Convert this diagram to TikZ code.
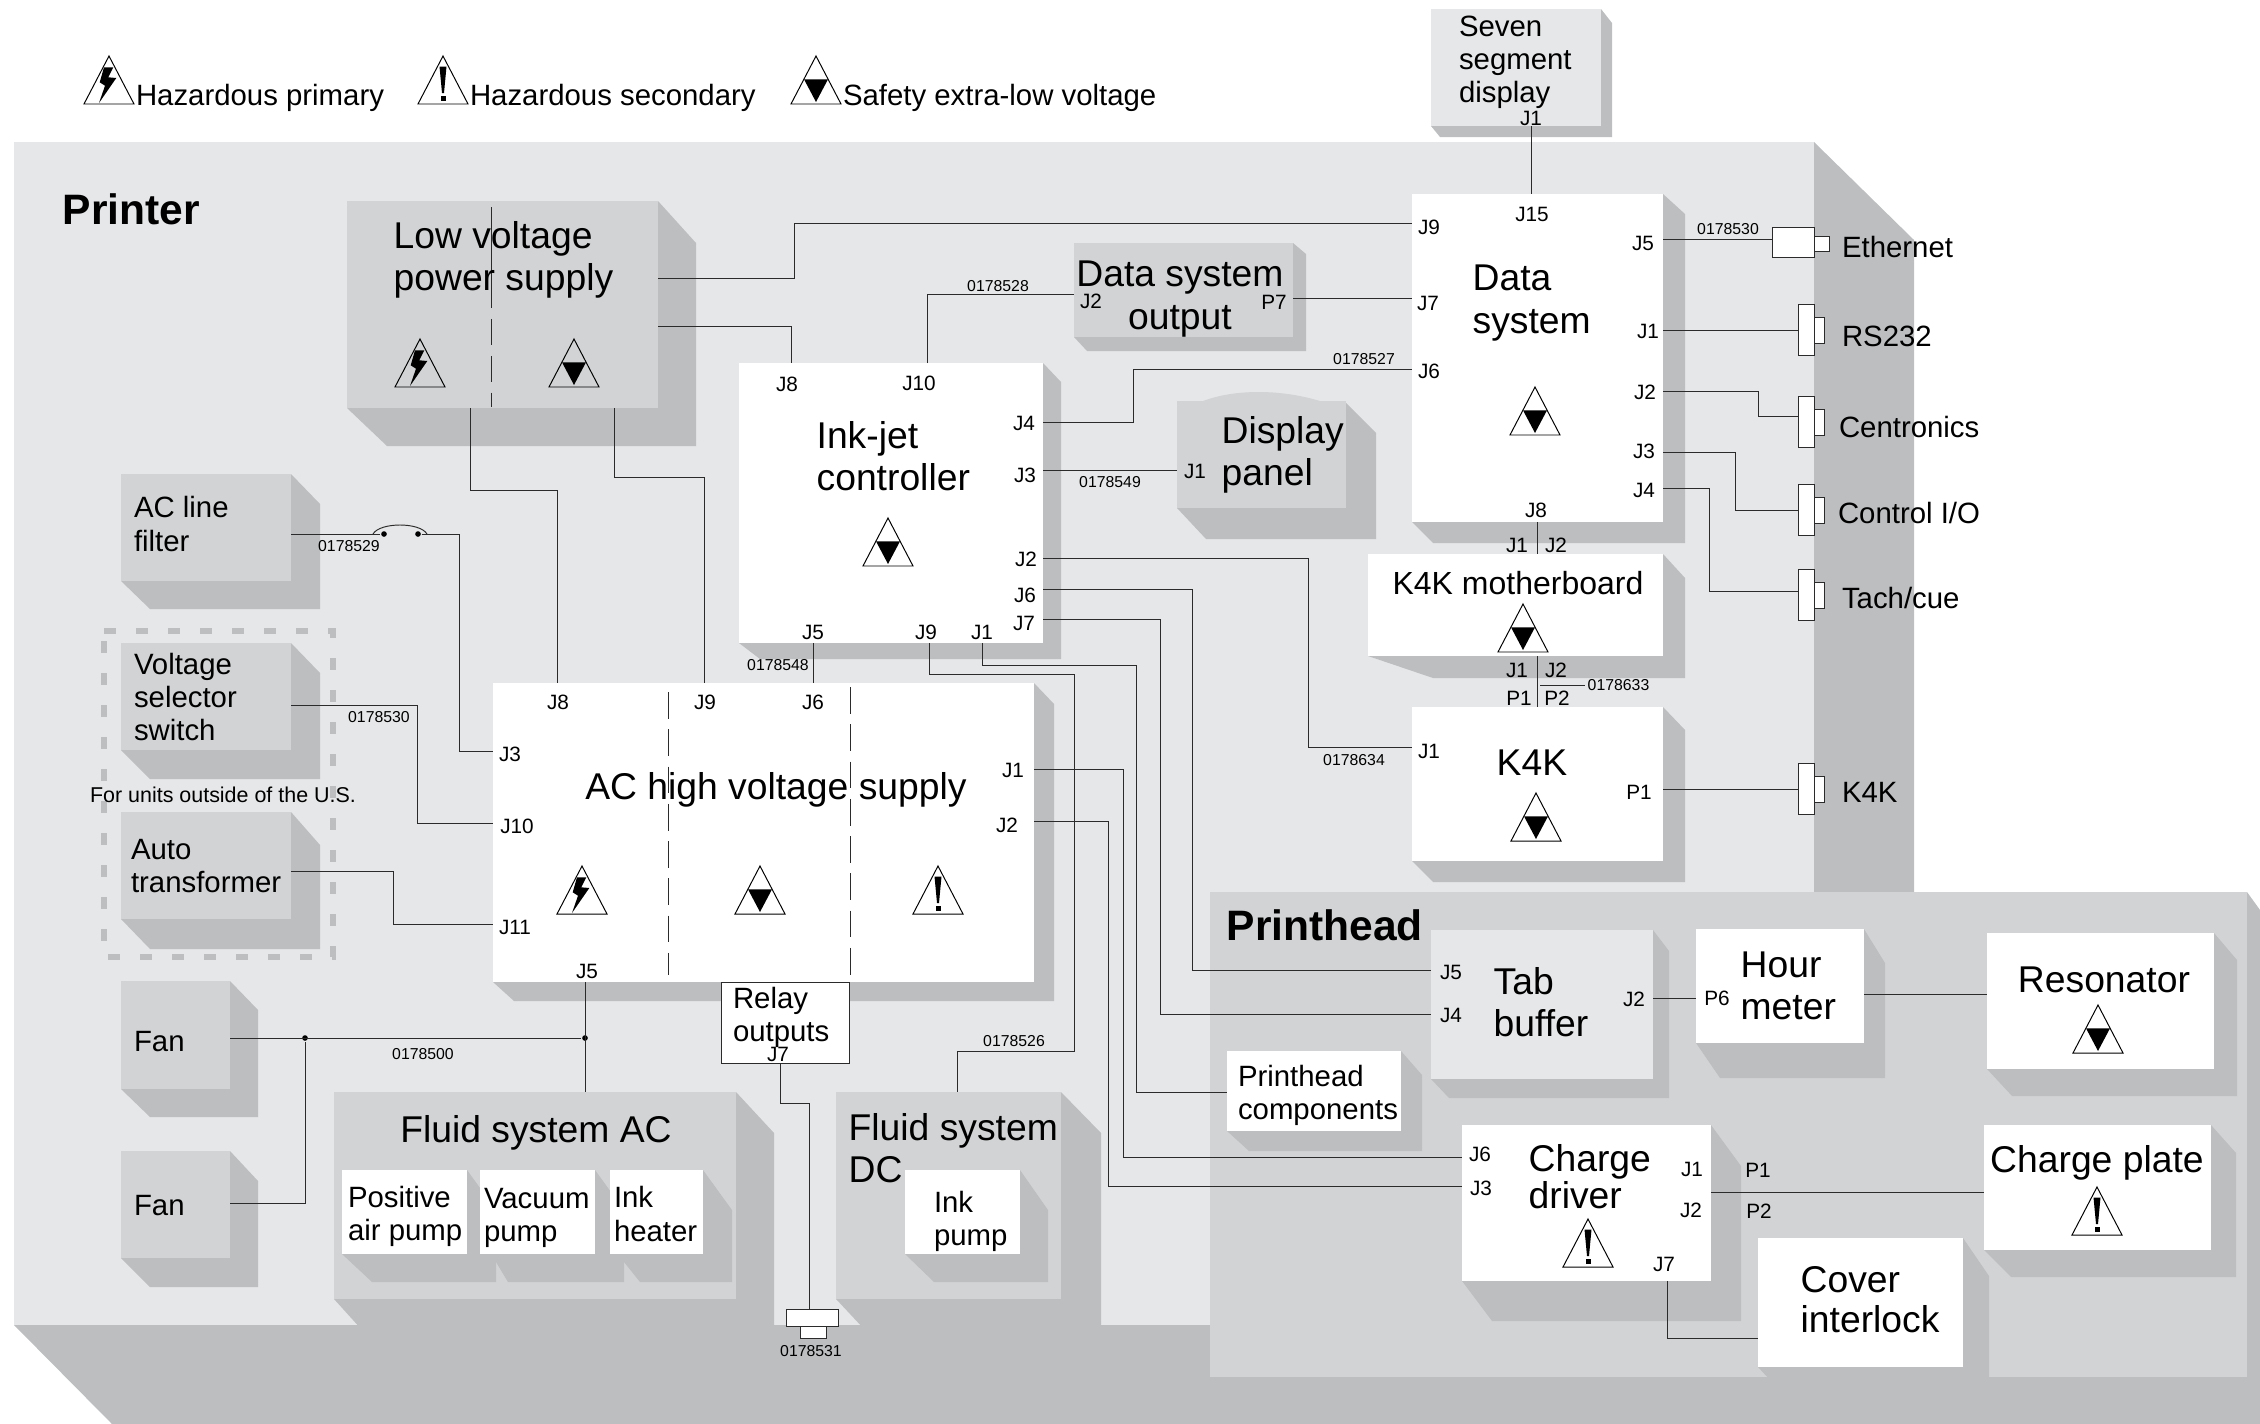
\documentclass[tikz,border=0pt]{standalone}
\usepackage{fontspec}
\setmainfont{Liberation Sans}
\usepackage{tikz}
\usetikzlibrary{fit}
\definecolor{facelight}{HTML}{E6E7E8}
\definecolor{facemid}{HTML}{D1D3D4}
\definecolor{shadegray}{HTML}{BCBEC0}
\definecolor{wiregray}{HTML}{2B2B2B}
\tikzset{
  trioutline/.style={line width=0.28pt, line join=miter},
  hazprimary/.pic={
    \draw[trioutline] (-25,0) -- (0,-48) -- (25,0) -- cycle;
    \fill (-5,-36.7) -- (4.3,-36.7) -- (-0.7,-26.7) -- (7.3,-26) -- (-10,-1) -- (-4,-18.3) -- (-9.3,-21.7) -- cycle;
  },
  hazsecondary/.pic={
    \draw[trioutline] (-25,0) -- (0,-48) -- (25,0) -- cycle;
    \fill (-3.5,-37.5) -- (3.5,-37.5) -- (1,-11) -- (-1,-11) -- cycle;
    \fill (-2.5,-8.5) rectangle (2.5,-3.5);
  },
  safevolt/.pic={
    \draw[trioutline] (-25,0) -- (0,-48) -- (25,0) -- cycle;
    \fill (-12,-24.7) -- (12,-24.7) -- (0,-2) -- cycle;
  }
}
\begin{document}
\begin{tikzpicture}[x=0.01cm, y=-0.01cm,
  boxbase/.style={inner sep=0, outer sep=0},
  midbox/.style={boxbase, fill=facemid},
  lightbox/.style={boxbase, fill=facelight},
  whitebox/.style={boxbase, fill=white},
  shade/.style={fill=shadegray},
  wire/.style={draw=wiregray, line width=0.27pt},
  divider/.style={draw=wiregray, line width=0.24pt, dash pattern=on 7.6pt off 3pt},
  portbox/.style={boxbase, fill=white, draw=wiregray, line width=0.27pt},
  jdot/.style={circle, fill=black, inner sep=0, minimum size=1.6pt},
  bigtext/.style={font=\fontsize{10.6}{12}\selectfont, align=left, inner sep=0, anchor=west, xshift=-0.3pt},
  medtext/.style={font=\fontsize{8.35}{9.4}\selectfont, align=left, inner sep=0, anchor=west, xshift=-0.2pt},
  titletext/.style={font=\fontsize{12.1}{14}\selectfont\bfseries, inner sep=0, anchor=west},
  jlab/.style={font=\fontsize{5.9}{7}\selectfont, inner sep=0},
  numlab/.style={font=\fontsize{4.5}{5}\selectfont, inner sep=0}]
\useasboundingbox (0,0) rectangle (2260,1424);

% Printer and printhead bases
\fill[shade] (1814,142) -- (1914,240) -- (1914,900) -- (1814,900) -- cycle;
\fill[shade] (14,1325) -- (112,1424) -- (2260,1424) -- (2260,910) -- (2247,892) -- (1210,892) -- (1210,1325) -- cycle;
\node[lightbox, fit={(14,142) (1814,1325)}] (printer) {};
\node[midbox, fit={(1210,892) (2247,1377)}] (printhead) {};
\node[titletext] (printertext) at (62,209) {Printer};
\node[titletext] (printheadtext) at (1226,925) {Printhead};

% Legend
\pic at (109,104) {hazprimary};
\pic at (443,104) {hazsecondary};
\pic at (816,104) {safevolt};
\node[medtext] (legprimary) at (136,98) {Hazardous primary};
\node[medtext] (legsecondary) at (470,98) {Hazardous secondary};
\node[medtext] (legsafe) at (843,98) {Safety extra-low voltage};

% Seven segment display
\fill[shade] (1601,9) -- (1612,23) -- (1612,137) -- (1440,137) -- (1431,126) -- cycle;
\node[lightbox, fit={(1431,9) (1601,126)}] (seven) {};
\node[medtext] (seventext) at (1459,62) {Seven\\segment\\display};

% Low voltage power supply
\fill[shade] (658,201) -- (696,243) -- (696,446) -- (387,446) -- (347,408) -- cycle;
\node[midbox, fit={(347,201) (658,408)}] (lvps) {};
\draw[divider, dash pattern=on 28.7pt off 3.1pt on 7.4pt off 3.1pt on 7.4pt off 3.1pt on 4pt off 9pt] (491,207) -- (491,408);
\node[bigtext] (lvpstext) at (394,260) {Low voltage\\power supply};
\pic at (420,387) {hazprimary};
\pic at (574,387) {safevolt};

% Ink-jet controller
\fill[shade] (1043,363) -- (1061,382) -- (1061,659) -- (760,659) -- (739,643) -- cycle;
\node[whitebox, fit={(739,363) (1043,643)}] (ink) {};
\node[bigtext] (inktext) at (817,456) {Ink-jet\\controller};
\pic at (888,566) {safevolt};

% Data system output
\fill[shade] (1293,243) -- (1306,254) -- (1306,351) -- (1087,351) -- (1074,337) -- cycle;
\node[midbox, fit={(1074,243) (1293,337)}] (dsout) {};
\node[bigtext, anchor=center, align=center] (dsouttext) at (1181,299) {Data system\\output};

% Display panel
\fill[shade] (1346,403) -- (1376,433) -- (1376,539) -- (1206,539) -- (1177,508) -- cycle;
\node[midbox, fit={(1177,401) (1346,508)}] (display) {};
\fill[facemid] (1203,401) .. controls (1235,389) and (1280,389) .. (1320,401) -- cycle;
\node[bigtext] (displaytext) at (1222,455) {Display\\panel};

% Data system
\fill[shade] (1663,194) -- (1685,214) -- (1685,543) -- (1433,543) -- (1412,522) -- cycle;
\node[whitebox, fit={(1412,194) (1663,522)}] (dsys) {};
\node[bigtext] (dsystext) at (1473,303) {Data\\system};
\pic at (1535,435) {safevolt};

% K4K motherboard
\fill[shade] (1663,554) -- (1685,578) -- (1685,678) -- (1433,678) -- (1368,656) -- cycle;
\node[whitebox, fit={(1368,554) (1663,656)}] (mother) {};
\node[font=\fontsize{9.1}{10}\selectfont, inner sep=0] (mothertext) at (1518,583) {K4K motherboard};
\pic at (1523,652) {safevolt};

% K4K
\fill[shade] (1663,707) -- (1685,730) -- (1685,882) -- (1433,882) -- (1412,861) -- cycle;
\node[whitebox, fit={(1412,707) (1663,861)}] (kfk) {};
\node[bigtext, anchor=center] (kfktext) at (1533,763) {K4K};
\pic at (1536,841) {safevolt};

% Line filter, selector and transformer
\draw[shadegray, line width=1.5pt, dash pattern=on 3.41pt off 5.69pt] (104,631) -- (333,631) -- (333,957) -- (104,957) -- cycle;
\fill[shade] (291,474) -- (320,504) -- (320,609) -- (150,609) -- (121,581) -- cycle;
\node[midbox, fit={(121,474) (291,581)}] (filter) {};
\node[medtext] (filtertext) at (134,524) {AC line\\filter};
\fill[shade] (291,643) -- (320,673) -- (320,779) -- (150,779) -- (121,750) -- cycle;
\node[midbox, fit={(121,643) (291,750)}] (selector) {};
\node[medtext] (selectortext) at (134,697) {Voltage\\selector\\switch};
\node[font=\fontsize{6.1}{7}\selectfont, inner sep=0] (unitstext) at (223,795) {For units outside of the U.S.};
\fill[shade] (291,812) -- (320,845) -- (320,949) -- (150,949) -- (121,919) -- cycle;
\node[midbox, fit={(121,812) (291,919)}] (auto) {};
\node[medtext] (autotext) at (131,866) {Auto\\transformer};

% Fans
\fill[shade] (230,981) -- (258,1010) -- (258,1117) -- (150,1117) -- (121,1089) -- cycle;
\node[midbox, fit={(121,981) (230,1089)}] (fanone) {};
\node[medtext] (fanonetext) at (134,1042) {Fan};
\fill[shade] (230,1151) -- (258,1181) -- (258,1287) -- (150,1287) -- (121,1258) -- cycle;
\node[midbox, fit={(121,1151) (230,1258)}] (fantwo) {};
\node[medtext] (fantwotext) at (134,1206) {Fan};

% AC high voltage supply
\fill[shade] (1034,683) -- (1054,704) -- (1054,1001) -- (514,1001) -- (493,982) -- cycle;
\node[whitebox, fit={(493,683) (1034,982)}] (hvac) {};
\draw[divider] (668,692) -- (668,975);
\draw[divider] (850,687) -- (850,975);
\node[bigtext, anchor=center] (hvactext) at (777,790) {AC high voltage supply};
\pic at (582,914) {hazprimary};
\pic at (760,914) {safevolt};
\pic at (938,914) {hazsecondary};

% Fluid system AC
\fill[shade] (736,1092) -- (774,1133) -- (774,1330) -- (362,1330) -- (334,1299) -- cycle;
\node[midbox, fit={(334,1092) (736,1299)}] (fluidac) {};
\node[bigtext, anchor=center] (fluidactext) at (537,1133) {Fluid system AC};
\fill[shade] (467,1170) -- (496,1210) -- (496,1282) -- (372,1282) -- (342,1254) -- cycle;
\node[whitebox, fit={(342,1170) (467,1254)}] (airpump) {};
\node[medtext] (airpumptext) at (348,1216) {Positive\\air pump};
\fill[shade] (595,1170) -- (624,1210) -- (624,1282) -- (508,1282) -- (496,1262) -- (480,1254) -- cycle;
\node[whitebox, fit={(480,1170) (595,1254)}] (vacpump) {};
\node[medtext] (vacpumptext) at (484,1218) {Vacuum\\pump};
\fill[shade] (703,1170) -- (732,1210) -- (732,1282) -- (640,1282) -- (624,1262) -- (610,1254) -- cycle;
\node[whitebox, fit={(610,1170) (703,1254)}] (heater) {};
\node[medtext] (heatertext) at (614,1214) {Ink\\heater};

% Fluid system DC
\fill[shade] (1061,1092) -- (1101,1133) -- (1101,1330) -- (865,1330) -- (836,1299) -- cycle;
\node[midbox, fit={(836,1092) (1061,1299)}] (fluiddc) {};
\node[bigtext] (fluiddctext) at (849,1148) {Fluid system\\DC};
\fill[shade] (1020,1170) -- (1048,1210) -- (1048,1282) -- (934,1282) -- (905,1254) -- cycle;
\node[whitebox, fit={(905,1170) (1020,1254)}] (inkpump) {};
\node[medtext] (inkpumptext) at (934,1221) {Ink\\pump};

% Printhead blocks
\fill[shade] (1653,930) -- (1669,951) -- (1669,1098) -- (1449,1098) -- (1431,1079) -- cycle;
\node[lightbox, fit={(1431,930) (1653,1079)}] (tab) {};
\node[bigtext] (tabtext) at (1494,1002) {Tab\\buffer};
\fill[shade] (1864,929) -- (1885,963) -- (1885,1078) -- (1720,1078) -- (1696,1043) -- cycle;
\node[whitebox, fit={(1696,929) (1864,1043)}] (hour) {};
\node[bigtext] (hourtext) at (1741,986) {Hour\\meter};
\fill[shade] (2214,933) -- (2237,960) -- (2237,1096) -- (2012,1096) -- (1987,1069) -- cycle;
\node[whitebox, fit={(1987,933) (2214,1069)}] (resonator) {};
\node[bigtext, anchor=center] (resonatortext) at (2105,980) {Resonator};
\pic at (2098,1053) {safevolt};
\fill[shade] (1401,1051) -- (1422,1075) -- (1422,1151) -- (1249,1151) -- (1227,1131) -- cycle;
\node[whitebox, fit={(1227,1051) (1401,1131)}] (components) {};
\node[medtext] (componentstext) at (1238,1095) {Printhead\\components};
\fill[shade] (1711,1125) -- (1741,1166) -- (1741,1321) -- (1492,1321) -- (1462,1281) -- cycle;
\node[whitebox, fit={(1462,1125) (1711,1281)}] (chargedrv) {};
\node[bigtext, font=\fontsize{10.6}{10.5}\selectfont] (chargedrvtext) at (1529,1177) {Charge\\driver};
\pic at (1588,1267) {hazsecondary};
\fill[shade] (2211,1125) -- (2236,1153) -- (2236,1277) -- (2011,1277) -- (1984,1250) -- cycle;
\node[whitebox, fit={(1984,1125) (2211,1250)}] (chargeplate) {};
\node[bigtext, anchor=center] (chargeplatetext) at (2098,1163) {Charge plate};
\pic at (2097,1235) {hazsecondary};
\fill[shade] (1963,1238) -- (1989,1276) -- (1989,1380) -- (1770,1380) -- (1758,1367) -- cycle;
\node[whitebox, fit={(1758,1238) (1963,1367)}] (cover) {};
\node[bigtext, font=\fontsize{10.6}{11.3}\selectfont] (covertext) at (1801,1300) {Cover\\interlock};

% Outside connectors
\node[portbox, fit={(1772,227) (1814,257)}] (ethbody) {};
\node[portbox, fit={(1814,236) (1829,251)}] (ethtip) {};
\node[medtext] (ethtext) at (1842,247) {Ethernet};
\foreach \pname/\py in {rs/330, cen/422, ctl/510, tach/595, kport/789} {
  \node[portbox, fit={(1798,\py-25.5) (1814,\py+25.5)}] (\pname body) {};
  \node[portbox, fit={(1814,\py-13) (1824,\py+13)}] (\pname tip) {};
}
\node[medtext] (rstext) at (1842,336) {RS232};
\node[medtext] (centext) at (1839,427) {Centronics};
\node[medtext] (ctltext) at (1838,513) {Control I/O};
\node[medtext] (tachtext) at (1842,598) {Tach/cue};
\node[medtext] (kporttext) at (1842,792) {K4K};
\node[portbox, fit={(786,1309) (838,1326)}] (plugbody) {};
\node[portbox, fit={(800,1326) (826,1338)}] (plugtip) {};

% Connectors around the power supplies
\draw[wire] (lvps.east |- 0,278) -| (794,223) -- (dsys.west |- 0,223);
\draw[wire] (lvps.east |- 0,326) -| (791,0 |- ink.north);
\draw[wire] (470,0 |- lvps.south) |- (557,490) -- (557,0 |- hvac.north);
\draw[wire] (614,0 |- lvps.south) |- (704,477) -- (704,0 |- hvac.north);
\draw[wire] (813,0 |- ink.south) -- (813,0 |- hvac.north);
\node[jdot] (swleft) at (384,534) {};
\node[jdot] (swright) at (418,534) {};
\coordinate (arcleft) at (373,534);
\coordinate (arcright) at (427,534);
\draw[wire] (filter.east |- swleft) -- (swleft);
\draw[wire] (arcleft) .. controls (380,522) and (420,522) .. (arcright);
\draw[wire] (swright) -| (459,751) -- (hvac.west |- 0,751);
\draw[wire] (selector.east |- 0,705) -| (417,823) -- (hvac.west |- 0,823);
\draw[wire] (auto.east |- 0,871) -| (393,924) -- (hvac.west |- 0,924);

% Fan and relay connectors
\node[jdot] (fandot) at (305,1038) {};
\node[jdot] (acdot) at (585,1038) {};
\draw[wire] (fanone.east |- fandot) -- (acdot);
\draw[wire] (fantwo.east |- 0,1203) -| (fandot);
\draw[wire] (hvac.south -| acdot) -- (fluidac.north -| acdot);
\node[whitebox, draw=wiregray, line width=0.27pt, fit={(721,982) (849,1063)}] (relay) {};
\node[medtext] (relaytext) at (733,1017) {Relay\\outputs};
\draw[wire] (780,0 |- relay.south) |- (809,1103) -- (809,0 |- plugbody.north);

% Ink-jet controller connectors
\draw[wire] (927,0 |- ink.north) |- (dsout.west |- 0,294);
\draw[wire] (ink.east |- 0,422) -| (1133,369) -- (dsys.west |- 0,369);
\draw[wire] (ink.east |- 0,470) -- (display.west |- 0,470);
\draw[wire] (ink.east |- 0,558) -| (1308,747) -- (kfk.west |- 0,747);
\draw[wire] (ink.east |- 0,589) -| (1192,970) -- (tab.west |- 0,970);
\draw[wire] (ink.east |- 0,619) -| (1160,1014) -- (tab.west |- 0,1014);
\draw[wire] (982,0 |- ink.south) |- (1136,665) -- (1136,1092) -- (components.west |- 0,1092);
\draw[wire] (929,0 |- ink.south) |- (1074,674) -- (1074,1051) -- (957,1051) -- (957,0 |- fluiddc.north);
\draw[wire] (hvac.east |- 0,769) -| (1123,1157) -- (chargedrv.west |- 0,1157);
\draw[wire] (hvac.east |- 0,821) -| (1108,1186) -- (chargedrv.west |- 0,1186);

% Data system connectors
\draw[wire] (1531,0 |- seven.south) -- (1531,0 |- dsys.north);
\draw[wire] (dsout.east |- 0,298) -- (dsys.west |- 0,298);
\draw[wire] (dsys.east |- 0,239) -- (ethbody.west |- 0,239);
\draw[wire] (dsys.east |- rsbody.west) -- (rsbody.west);
\draw[wire] (dsys.east |- 0,391) -| (1758,416) -- (cenbody.west |- 0,416);
\draw[wire] (dsys.east |- 0,452) -| (1735,510) -- (ctlbody.west);
\draw[wire] (dsys.east |- 0,488) -| (1709,591) -- (tachbody.west |- 0,591);
\draw[wire] (1537,0 |- dsys.south) -- (1537,0 |- mother.north);
\draw[wire] (1537,0 |- mother.south) -- (1537,0 |- kfk.north);
\draw[wire] (kfk.east |- kportbody.west) -- (kportbody.west);
\coordinate (ticktip) at (1585,685);
\draw[wire] (1540,685) -- (ticktip);

% Printhead connectors
\draw[wire] (tab.east |- 0,998) -- (hour.west |- 0,998);
\draw[wire] (hour.east |- 0,994) -- (resonator.west |- 0,994);
\draw[wire] (chargedrv.east |- 0,1192) -- (chargeplate.west |- 0,1192);
\draw[wire] (1667,0 |- chargedrv.south) |- (cover.west |- 0,1338);

% Cable numbers
\node[numlab] (cableA) at (998,286) {0178528};
\node[numlab] (cableB) at (1110,482) {0178549};
\node[numlab] (cableC) at (778,665) {0178548};
\node[numlab] (cableD) at (349,546) {0178529};
\node[numlab] (cableE) at (379,717) {0178530};
\node[numlab] (cableF) at (423,1054) {0178500};
\node[numlab] (cableG) at (1014,1041) {0178526};
\node[numlab] (cableH) at (811,1351) {0178531};
\node[numlab] (cableI) at (1728,229) {0178530};
\node[numlab] (cableJ) at (1364,359) {0178527};
\node[numlab, anchor=west] (cableK) at (1587,685) {0178633};
\node[numlab] (cableL) at (1354,760) {0178634};

% Ink-jet controller pins
\node[jlab] (inkJ8) at (787,384) {J8};
\node[jlab] (inkJ10) at (919,383) {J10};
\node[jlab] (inkJ4) at (1024,423) {J4};
\node[jlab] (inkJ3) at (1025,475) {J3};
\node[jlab] (inkJ2) at (1026,559) {J2};
\node[jlab] (inkJ6) at (1025,595) {J6};
\node[jlab] (inkJ7) at (1024,623) {J7};
\node[jlab] (inkJ5) at (813,632) {J5};
\node[jlab] (inkJ9) at (926,632) {J9};
\node[jlab] (inkJ1) at (982,632) {J1};

% AC supply pins
\node[jlab] (hvJ8) at (558,702) {J8};
\node[jlab] (hvJ9) at (705,702) {J9};
\node[jlab] (hvJ6) at (813,702) {J6};
\node[jlab] (hvJ3) at (510,754) {J3};
\node[jlab] (hvJ10) at (517,826) {J10};
\node[jlab] (hvJ11) at (515,927) {J11};
\node[jlab] (hvJ5) at (587,971) {J5};
\node[jlab] (hvJ1) at (1013,770) {J1};
\node[jlab] (hvJ2) at (1007,825) {J2};
\node[jlab] (relayJ7) at (778,1054) {J7};

% Data system and K4K pins
\node[jlab] (sevenJ1) at (1531,118) {J1};
\node[jlab] (dsoutJ2) at (1091,301) {J2};
\node[jlab] (dsoutP7) at (1274,302) {P7};
\node[jlab] (displayJ1) at (1195,471) {J1};
\node[jlab] (dsysJ9) at (1429,227) {J9};
\node[jlab] (dsysJ7) at (1428,303) {J7};
\node[jlab] (dsysJ6) at (1429,371) {J6};
\node[jlab] (dsysJ15) at (1532,214) {J15};
\node[jlab] (dsysJ5) at (1643,243) {J5};
\node[jlab] (dsysJ1) at (1648,331) {J1};
\node[jlab] (dsysJ2) at (1645,392) {J2};
\node[jlab] (dsysJ3) at (1644,451) {J3};
\node[jlab] (dsysJ4) at (1644,490) {J4};
\node[jlab] (dsysJ8) at (1536,510) {J8};
\node[jlab] (motherJ1a) at (1517,545) {J1};
\node[jlab] (motherJ2a) at (1556,545) {J2};
\node[jlab] (motherJ1b) at (1517,670) {J1};
\node[jlab] (motherJ2b) at (1556,670) {J2};
\node[jlab] (kfkP1a) at (1519,698) {P1};
\node[jlab] (kfkP2) at (1557,698) {P2};
\node[jlab] (kfkJ1) at (1429,751) {J1};
\node[jlab] (kfkP1b) at (1639,792) {P1};

% Printhead pins
\node[jlab] (tabJ5) at (1451,972) {J5};
\node[jlab] (tabJ4) at (1451,1015) {J4};
\node[jlab] (tabJ2) at (1634,999) {J2};
\node[jlab] (hourP6) at (1717,998) {P6};
\node[jlab] (drvJ6) at (1480,1154) {J6};
\node[jlab] (drvJ3) at (1481,1188) {J3};
\node[jlab] (drvJ1) at (1692,1169) {J1};
\node[jlab] (drvJ2) at (1691,1210) {J2};
\node[jlab] (drvJ7) at (1664,1264) {J7};
\node[jlab] (plateP1) at (1758,1170) {P1};
\node[jlab] (plateP2) at (1759,1211) {P2};
\end{tikzpicture}
\end{document}
